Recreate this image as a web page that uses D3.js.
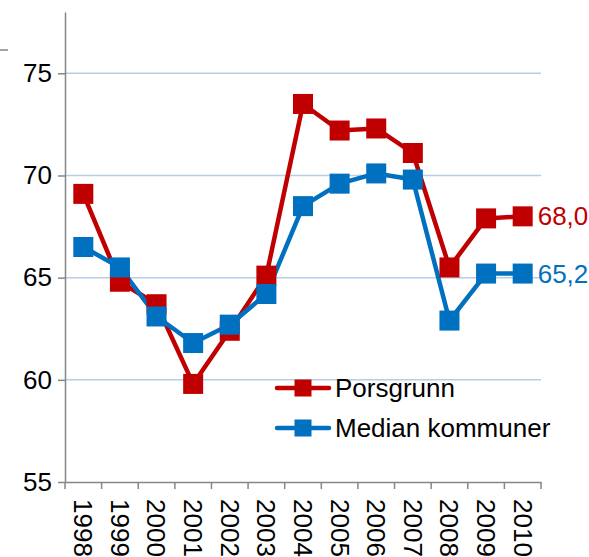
<!DOCTYPE html>
<html>
<head>
<meta charset="utf-8">
<script src="https://cdn.jsdelivr.net/npm/d3@7"></script>
<style>
  body { margin: 0; background: #fff; }
  svg text { font-family: "Liberation Sans", Arial, sans-serif; }
</style>
</head>
<body>
<svg id="chart"></svg>
<script>
const width = 589;
const height = 557;

// Data
const years = ["1998", "1999", "2000", "2001", "2002", "2003", "2004", "2005", "2006", "2007", "2008", "2009", "2010"];
const porsgrunn = [69.1, 64.8, 63.7, 59.8, 62.4, 65.1, 73.5, 72.2, 72.3, 71.1, 65.5, 67.9, 68.0];
const median = [66.5, 65.5, 63.1, 61.8, 62.7, 64.2, 68.5, 69.6, 70.1, 69.8, 62.9, 65.2, 65.2];
const yTicks = [55, 60, 65, 70, 75];
const seriesNames = ["Porsgrunn", "Median kommuner"];
const endLabels = ["68,0", "65,2"];

const colors = ["#c00000", "#0070c0"];

const svg = d3.select("#chart")
    .attr("width", width)
    .attr("height", height);

const margin = { left: 65, right: 48, top: 12, bottom: 75 };

const x = d3.scaleBand()
    .domain(years)
    .range([margin.left, width - margin.right]);

const y = d3.scaleLinear()
    .domain([55, 78])
    .range([height - margin.bottom, margin.top]);

// stray dash top-left
svg.append("line")
    .attr("x1", 0).attr("x2", 8)
    .attr("y1", 50).attr("y2", 50)
    .attr("stroke", "#868686")
    .attr("stroke-width", 1.5);

// gridlines
svg.append("g")
    .selectAll("line")
    .data(yTicks.filter(d => d > 55))
    .enter()
    .append("line")
    .attr("x1", margin.left)
    .attr("x2", width - margin.right)
    .attr("y1", d => y(d))
    .attr("y2", d => y(d))
    .attr("stroke", "#b9cde5")
    .attr("stroke-width", 1.5);

// y axis
const yAxis = svg.append("g")
    .attr("transform", `translate(${margin.left},0)`)
    .call(d3.axisLeft(y).tickValues(yTicks).tickSize(7).tickPadding(6).tickSizeOuter(0));

// x axis
const xAxis = svg.append("g")
    .attr("transform", `translate(0,${y(55)})`)
    .call(d3.axisBottom(x).tickSize(0).tickFormat(""));

// x ticks at band boundaries
svg.append("g")
    .selectAll("line")
    .data(years.concat(["end"]))
    .enter()
    .append("line")
    .attr("x1", (d, i) => margin.left + i * x.step())
    .attr("x2", (d, i) => margin.left + i * x.step())
    .attr("y1", y(55))
    .attr("y2", y(55) + 7)
    .attr("stroke", "#868686")
    .attr("stroke-width", 1.5);

[yAxis, xAxis].forEach(g => {
    g.select(".domain").attr("stroke", "#868686").attr("stroke-width", 1.5);
    g.selectAll(".tick line").attr("stroke", "#868686").attr("stroke-width", 1.5);
    g.selectAll("text").attr("font-size", 26).attr("fill", "#000");
});

// rotated year labels
svg.append("g")
    .selectAll("text")
    .data(years)
    .enter()
    .append("text")
    .attr("transform", d => `translate(${x(d) + x.bandwidth() / 2},${y(55) + 17}) rotate(90)`)
    .attr("dy", "0.35em")
    .attr("font-size", 26)
    .attr("fill", "#000")
    .text(d => d);

// lines and markers
const line = d3.line()
    .x((d, i) => x(years[i]) + x.bandwidth() / 2)
    .y(d => y(d));

const allSeries = [porsgrunn, median];
const ms = 20;

allSeries.forEach((vals, s) => {
    svg.append("path")
        .datum(vals)
        .attr("fill", "none")
        .attr("stroke", colors[s])
        .attr("stroke-width", 4.5)
        .attr("stroke-linejoin", "round")
        .attr("d", line);
});

allSeries.forEach((vals, s) => {
    svg.append("g")
        .selectAll("rect")
        .data(vals)
        .enter()
        .append("rect")
        .attr("x", (d, i) => x(years[i]) + x.bandwidth() / 2 - ms / 2)
        .attr("y", d => y(d) - ms / 2)
        .attr("width", ms)
        .attr("height", ms)
        .attr("fill", colors[s]);

    // end value label
    const last = vals.length - 1;
    svg.append("text")
        .attr("x", x(years[last]) + x.bandwidth() / 2 + 15)
        .attr("y", y(vals[last]))
        .attr("dy", "0.35em")
        .attr("font-size", 26)
        .attr("fill", colors[s])
        .text(endLabels[s]);
});

// legend
const legend = svg.append("g");
seriesNames.forEach((name, s) => {
    const ly = 388 + s * 40;
    legend.append("line")
        .attr("x1", 277).attr("x2", 329)
        .attr("y1", ly).attr("y2", ly)
        .attr("stroke", colors[s])
        .attr("stroke-width", 4.5)
        .attr("stroke-linecap", "round");
    legend.append("rect")
        .attr("x", 303 - 8.5).attr("y", ly - 8.5)
        .attr("width", 17).attr("height", 17)
        .attr("fill", colors[s]);
    legend.append("text")
        .attr("x", 335)
        .attr("y", ly)
        .attr("dy", "0.35em")
        .attr("font-size", 26)
        .attr("fill", "#000")
        .text(name);
});
</script>
</body>
</html>
